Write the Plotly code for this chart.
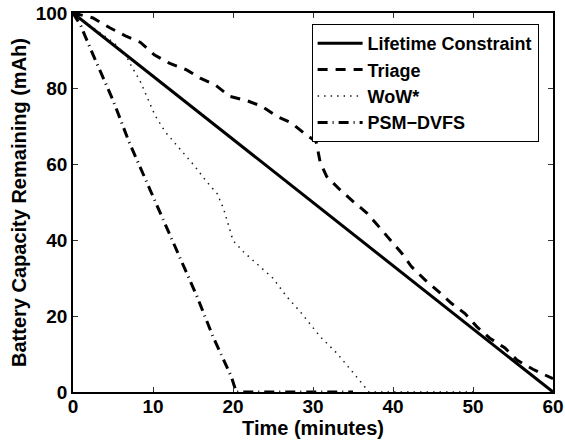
import plotly.graph_objects as go

# ---- data ----
lifetime_t = [0, 60]
lifetime_v = [100, 0]

triage_t = [0, 2.5, 4.6, 6.7, 8.4, 10.2, 12.1, 14.2, 15.9, 17.8, 19.6, 21.7, 23.6,
            25.5, 27.3, 29.0, 30.4, 30.9, 31.7, 33.4, 35.0, 36.7, 38.2, 39.6, 41.1,
            42.3, 44.0, 45.7, 47.3, 49.0, 50.5, 52.1, 54.0, 55.5, 57.5, 60.0]
triage_v = [100, 98.7, 96.1, 93.8, 92.3, 88.9, 86.7, 85.0, 82.8, 81.0, 78.0, 76.9, 75.4,
            72.7, 71.0, 68.1, 66.0, 60.6, 56.9, 53.3, 50.3, 47.3, 43.7, 40.2, 36.6,
            33.1, 29.6, 26.5, 23.4, 20.7, 17.2, 14.2, 11.6, 8.4, 6.0, 3.5]

wow_t = [0, 3.2, 5.2, 6.7, 7.3, 8.4, 9.2, 10.25, 11.5, 12.75, 14, 15.25, 16.7, 18,
         18.8, 19.4, 20, 21.3, 23.4, 25, 26.7, 28.4, 30.9, 33, 35.25, 37, 50]
wow_v = [100, 95, 92, 88.5, 86, 82, 78, 73, 68.7, 65.6, 62.5, 59.5, 55.5, 52.4,
         48.5, 44.5, 40, 37, 33, 30, 25.2, 21.2, 14.6, 10.2, 4.5, 0, 0]

psm_t = [0, 1, 2.5, 5, 7, 9.2, 11.3, 13.4, 15.5, 17.5, 19.8, 20.4, 35]
psm_v = [100, 96.5, 89, 77, 66, 55.5, 45.4, 35.3, 25.2, 14.6, 4, 0, 0]

x_ticks = [0, 10, 20, 30, 40, 50, 60]
y_ticks = [0, 20, 40, 60, 80, 100]

FONT = "Liberation Sans, Arial, Helvetica, sans-serif"

fig = go.Figure()
fig.add_trace(go.Scatter(x=lifetime_t, y=lifetime_v, mode="lines",
                         name="Lifetime Constraint",
                         line=dict(color="black", width=3)))
fig.add_trace(go.Scatter(x=triage_t, y=triage_v, mode="lines", name="Triage",
                         line=dict(color="black", width=3, dash="10px,8px")))
fig.add_trace(go.Scatter(x=wow_t, y=wow_v, mode="lines", name="WoW*",
                         line=dict(color="#1a1a1a", width=1.5, dash="1.5px,5px")))
fig.add_trace(go.Scatter(x=psm_t, y=psm_v, mode="lines", name="PSM\u2212DVFS",
                         line=dict(color="black", width=3, dash="10px,5px,1px,5px")))

axis_common = dict(
    showline=True, linecolor="black", linewidth=1.5, mirror="ticks",
    ticks="inside", ticklen=5, tickwidth=1, tickcolor="#333333",
    showgrid=False, zeroline=False, automargin=False,
    tickfont=dict(family=FONT, size=19, color="black", weight="bold"),
)

fig.update_xaxes(range=[0, 60], tickvals=x_ticks, ticklabelstandoff=-4,
                 title=dict(text="Time (minutes)",
                            font=dict(family=FONT, size=20, color="black", weight="bold"),
                            standoff=0),
                 **axis_common)
fig.update_yaxes(range=[0, 100], tickvals=y_ticks,
                 title=dict(text="Battery Capacity Remaining (mAh)",
                            font=dict(family=FONT, size=20, color="black", weight="bold"),
                            standoff=4),
                 **axis_common)

fig.update_layout(
    width=565, height=441,
    margin=dict(l=73, r=12, t=13, b=49),
    paper_bgcolor="white", plot_bgcolor="white",
    showlegend=True,
    legend=dict(x=0.97, y=0.971, xanchor="right", yanchor="top",
                bgcolor="white", bordercolor="black", borderwidth=1,
                font=dict(family=FONT, size=18, color="black", weight="bold"),
                itemwidth=45, tracegroupgap=0),
)

# remove the page's default body margin so the figure fills the window exactly
fig.write_html("out.html", config={"displayModeBar": False},
               post_script="document.body.style.margin='0';")
